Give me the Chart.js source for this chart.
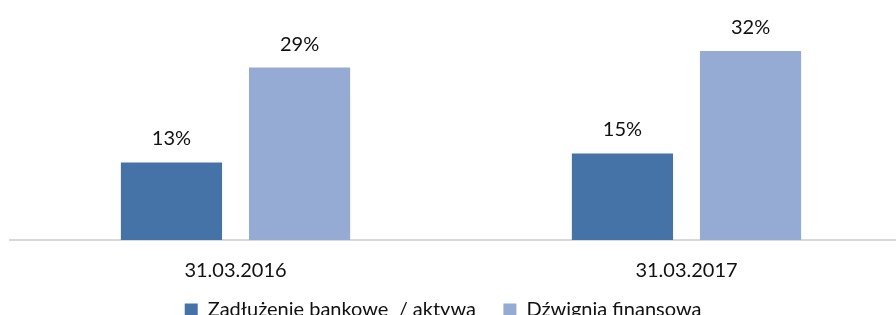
<!DOCTYPE html>
<html>
<head>
<meta charset="utf-8">
<script src="https://cdn.jsdelivr.net/npm/chart.js@4/dist/chart.umd.min.js"></script>
<style>
  html, body { margin: 0; padding: 0; background: #fff; }
  #wrap { width: 896px; height: 315px; overflow: hidden; position: relative; }
  #chart { position: absolute; left: 0; top: 0; }
</style>
</head>
<body>
<div id="wrap"><canvas id="chart" width="920" height="330"></canvas></div>
<script>
// ── Data ─────────────────────────────────────────────────────
const categories = ['31.03.2016', '31.03.2017'];
const debtToAssets = [13.1, 14.6];   // Zadłużenie bankowe / aktywa
const leverage     = [29.1, 31.9];   // Dźwignia finansowa
const seriesNames  = ['Zadłużenie bankowe  / aktywa', 'Dźwignia finansowa'];

const FONT = 'Lato, "Open Sans", sans-serif';

// ── Value labels above bars ──────────────────────────────────
const barLabels = {
  id: 'barLabels',
  afterDatasetsDraw(chart) {
    const ctx = chart.ctx;
    ctx.save();
    ctx.font = `20px ${FONT}`;
    ctx.fillStyle = '#111';
    ctx.textAlign = 'center';
    ctx.textBaseline = 'alphabetic';
    chart.data.datasets.forEach((ds, i) => {
      chart.getDatasetMeta(i).data.forEach((bar, j) => {
        ctx.fillText(Math.round(ds.data[j]) + '%', bar.x, bar.y - 17);
      });
    });
    ctx.restore();
  }
};

new Chart(document.getElementById('chart'), {
  type: 'bar',
  data: {
    labels: categories,
    datasets: [
      { label: seriesNames[0], data: debtToAssets, backgroundColor: '#4573a7' },
      { label: seriesNames[1], data: leverage,     backgroundColor: '#95abd3' },
    ]
  },
  options: {
    responsive: false, animation: false,
    devicePixelRatio: 1,
    categoryPercentage: 0.568,
    barPercentage: 0.79,
    layout: { padding: { left: 10, right: 8, top: 3, bottom: 0 } },
    plugins: {
      tooltip: { enabled: false },
      legend: {
        position: 'bottom',
        labels: {
          color: '#111',
          font: { family: FONT, size: 20 },
          boxWidth: 13, boxHeight: 13,
          padding: 7,
          // trailing spaces widen the gap between the two entries
          generateLabels: chart => Chart.defaults.plugins.legend.labels.generateLabels(chart)
            .map((l, i) => ({ ...l, text: l.text + (i === 0 ? '    ' : '       ') }))
        }
      }
    },
    scales: {
      x: {
        afterFit: s => { s.height = 53; },
        grid: { display: false, drawTicks: false },
        border: { color: '#d9d9d9', width: 2 },
        ticks: { color: '#111', font: { family: FONT, size: 20 }, padding: 19 }
      },
      y: { display: false, min: 0, max: 40 }
    }
  },
  plugins: [barLabels]
});
</script>
</body>
</html>
